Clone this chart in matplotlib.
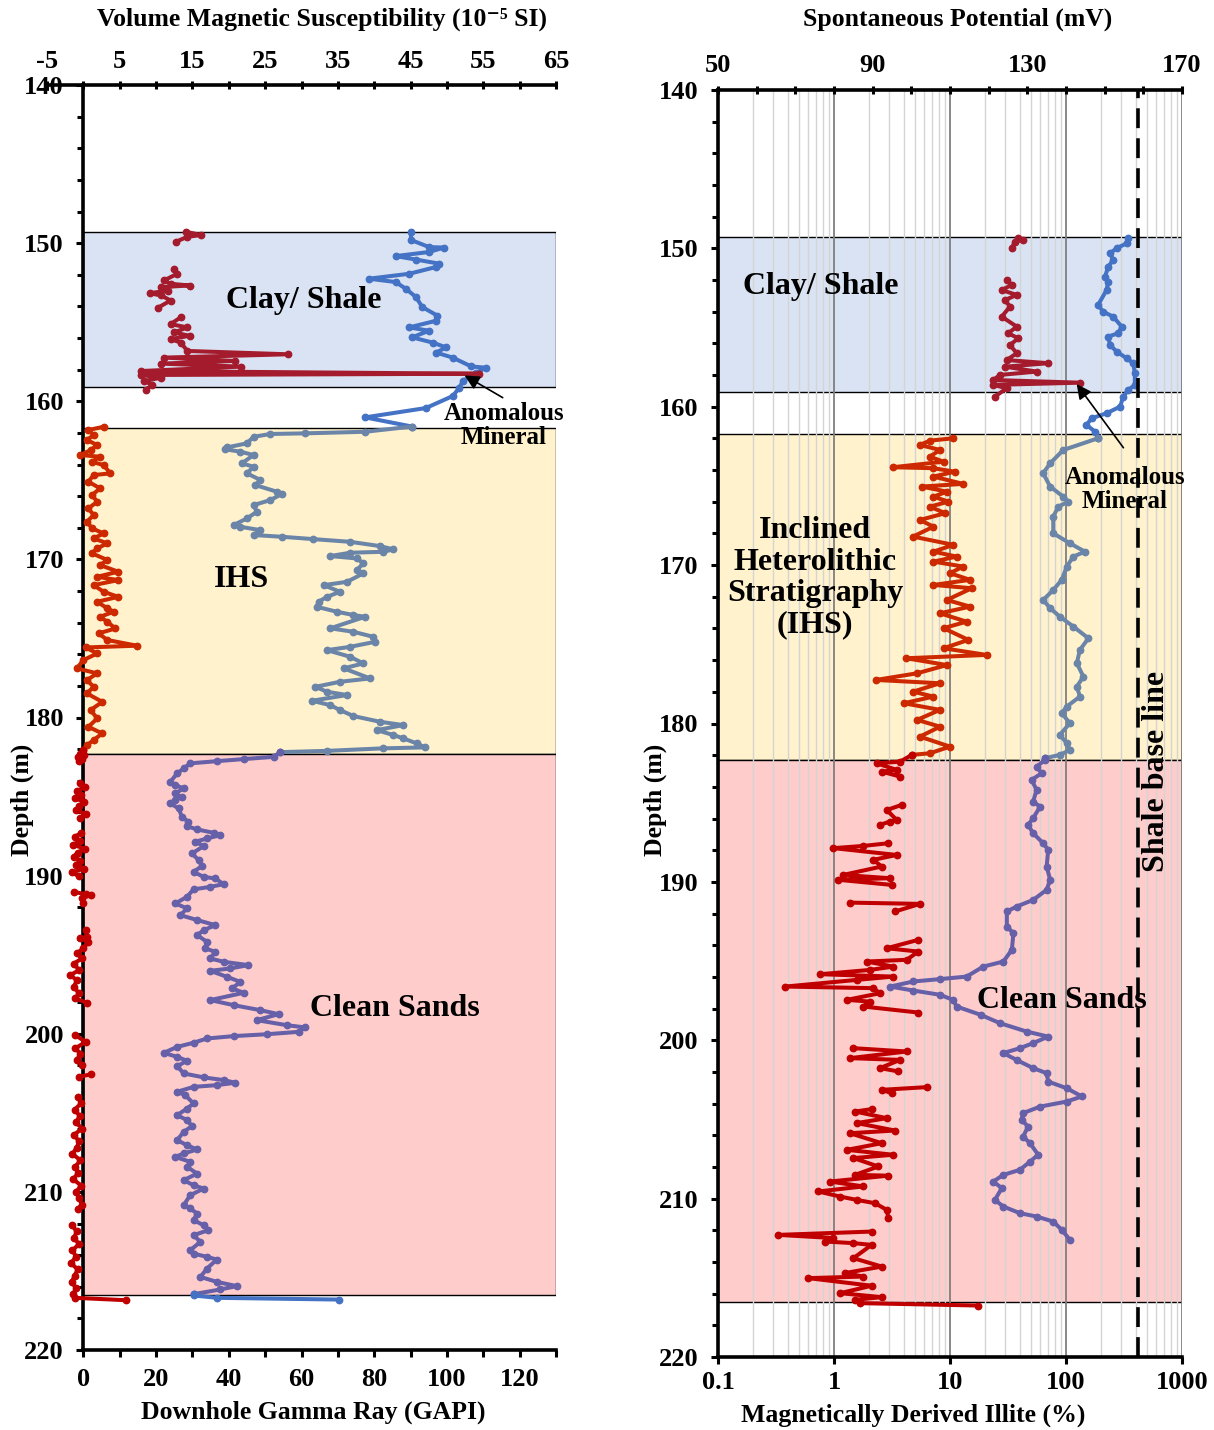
import numpy as np
import matplotlib
matplotlib.use('Agg')
import matplotlib.pyplot as plt
from matplotlib.patches import Rectangle
from matplotlib.ticker import MultipleLocator, FixedLocator, FuncFormatter

plt.rcParams['font.family'] = ['Liberation Serif', 'DejaVu Serif']
plt.rcParams['font.weight'] = 'bold'
plt.rcParams['axes.unicode_minus'] = False
plt.rcParams['xtick.labelsize'] = 19
plt.rcParams['ytick.labelsize'] = 19

nan = np.nan

# facies zones (depth, m)
zone_top = [149.3, 161.7, 182.3]
zone_base = [159.1, 182.3, 216.5]
zone_colors = ['#DAE3F3', '#FFF2CC', '#FFCCCC']

# ---- left track: downhole gamma ray (GAPI) ----
gr_clay_depth = [149.28, 149.80, 150.25, 150.28, 150.56, 150.82, 151.04, 151.30, 151.51, 151.94,
                 152.25, 152.46, 152.89, 153.41, 154.04, 154.59, 154.91, 155.33, 155.54, 155.96,
                 156.29, 156.60, 156.92, 157.24, 157.80, 157.88, 158.20, 158.72, 159.15, 159.67,
                 160.43, 161.02, 161.60]
gr_clay = [90.1, 90.1, 95.1, 99.2, 95.1, 85.9, 91.5, 97.9, 97.0, 89.6,
           78.5, 85.9, 88.7, 91.5, 93.2, 97.4, 97.0, 89.6, 95.1, 90.4,
           96.1, 99.8, 97.0, 101.6, 106.7, 110.8, 108.0, 104.4, 103.4, 101.6,
           94.2, 77.5, 90.4]

gr_ihs_depth = [161.93, 162.03, 162.07, 162.25, 162.66, 162.92, 163.04, 163.19, 163.40, 163.93,
                164.14, 164.56, 164.98, 165.30, 165.72, 165.87, 166.25, 166.57, 166.99, 167.41,
                167.83, 167.94, 168.15, 168.46, 168.57, 168.72, 168.89, 169.16, 169.37, 169.52,
                169.58, 169.79, 169.94, 170.25, 170.68, 170.89, 171.42, 171.63, 172.05, 172.37,
                172.68, 173.00, 173.31, 173.52, 173.63, 174.36, 174.58, 174.90, 175.21, 175.53,
                175.74, 176.16, 176.58, 176.89, 177.53, 177.74, 178.06, 178.37, 178.58, 178.94,
                179.22, 179.53, 179.91, 180.27, 180.48, 180.80, 181.11, 181.32, 181.64, 181.89,
                181.95, 182.11, 182.19]
gr_ihs = [77.5, 61.0, 51.4, 46.8, 45.0, 39.5, 39.0, 43.2, 46.8, 43.6,
          46.8, 45.0, 48.7, 47.3, 53.2, 54.6, 51.4, 46.8, 47.7, 45.0,
          41.3, 43.2, 48.7, 46.8, 54.6, 63.3, 73.4, 81.6, 85.3, 82.5,
          73.4, 67.9, 75.2, 77.0, 75.2, 77.0, 72.5, 66.1, 70.6, 67.0,
          64.7, 64.2, 69.7, 74.3, 77.5, 67.9, 74.3, 79.8, 80.3, 73.4,
          67.0, 73.4, 77.0, 71.6, 78.9, 70.6, 63.8, 67.0, 72.5, 62.9,
          67.9, 70.6, 74.3, 81.6, 88.0, 80.7, 85.3, 88.0, 91.7, 94.0,
          82.5, 67.0, 54.2]

gr_sand_depth = [182.49, 182.63, 182.76, 182.90, 183.22, 183.54, 184.07, 184.28, 184.48, 184.80,
                 185.05, 185.22, 185.43, 185.75, 186.28, 186.60, 186.87, 187.08, 187.29, 187.44,
                 187.65, 187.86, 188.13, 188.60, 189.02, 189.40, 189.76, 190.08, 190.18, 190.54,
                 190.71, 190.87, 191.34, 191.76, 192.07, 192.50, 192.81, 193.13, 193.45, 193.76,
                 194.19, 194.60, 194.82, 195.24, 195.45, 195.66, 195.87, 196.02, 196.40, 196.72,
                 197.13, 197.41, 197.87, 198.19, 198.51, 198.76, 199.14, 199.46, 199.60, 199.88,
                 200.03, 200.15, 200.30, 200.57, 200.83, 201.21, 201.46, 201.71, 202.05, 202.51,
                 202.76, 202.93, 203.10, 203.25, 203.36, 203.67, 203.88, 204.41, 204.73, 205.15,
                 205.46, 205.84, 206.20, 206.73, 207.05, 207.32, 207.57, 207.79, 208.10, 208.42,
                 208.84, 209.26, 209.58, 209.79, 210.21, 210.84, 211.05, 211.37, 211.79, 212.11,
                 212.42, 212.74, 213.16, 213.69, 213.90, 214.11, 214.28, 214.85, 215.38, 215.69,
                 215.96, 216.17, 216.47]
gr_sand = [52.3, 44.1, 36.8, 29.4, 27.6, 25.8, 23.9, 25.3, 27.6, 25.3,
           27.1, 25.3, 23.9, 26.2, 27.1, 28.9, 28.5, 31.3, 35.8, 37.7,
           34.0, 30.8, 33.1, 29.9, 31.7, 32.6, 30.3, 33.1, 36.3, 38.6,
           34.9, 30.3, 28.5, 25.3, 28.5, 26.7, 31.3, 36.3, 33.1, 31.3,
           34.0, 33.5, 36.3, 34.9, 38.6, 45.4, 40.4, 34.9, 39.5, 43.2,
           40.9, 44.1, 34.9, 41.3, 48.7, 53.7, 47.7, 56.0, 61.0, 59.2,
           50.5, 41.3, 34.0, 30.3, 25.8, 22.1, 25.8, 28.5, 25.8, 27.6,
           33.1, 38.6, 41.8, 36.7, 30.3, 25.8, 28.0, 30.3, 28.5, 25.8,
           28.5, 29.9, 27.6, 25.8, 28.5, 31.3, 27.6, 25.3, 29.4, 28.5,
           31.3, 27.6, 30.3, 33.1, 29.4, 27.6, 29.4, 31.3, 30.3, 33.1,
           34.4, 30.3, 32.2, 29.4, 30.3, 34.0, 36.7, 34.0, 32.2, 36.7,
           42.2, 37.7, 30.3]

gr_tail_depth = [216.55, 216.70, 216.81]
gr_tail = [30.3, 36.7, 70.2]

# ---- left track: volume magnetic susceptibility (1e-5 SI) ----
mag_clay_depth = [149.28, 149.49, 149.60, 149.92, nan,
                  151.62, 151.94, 152.36, 152.57, 152.68, 152.78, 153.00, 153.17, 153.31, 153.63, 154.10, nan,
                  154.69, 155.12, 155.33, 155.65, 155.86, 156.07, 156.29, 156.82, 157.03, 157.24,
                  157.45, 157.62, 157.81, 158.09, 158.26, 158.34, 158.51, 158.72, 158.97, 159.26]
mag_clay = [14.1, 16.2, 14.3, 12.7, nan,
            12.5, 12.9, 11.1, 12.0, 14.6, 10.7, 11.6, 9.1, 10.7, 12.0, 10.2, nan,
            13.4, 12.0, 14.3, 12.5, 14.6, 12.0, 13.4, 14.3, 28.1, 11.1,
            20.8, 10.7, 21.7, 7.9, 54.4, 7.9, 10.7, 8.4, 9.5, 8.6]

mag_ihs_depth = [161.61, 161.82, 162.14, 162.45, 162.77, 163.09, 163.40, 163.51, 163.83, 164.04,
                 164.56, 164.67, 165.09, 165.51, 165.93, 166.36, 166.77, 167.20, 167.62, 168.04,
                 168.36, 168.67, 168.99, 169.30, 169.62, 170.04, 170.36, 170.78, 171.10, 171.31,
                 171.63, 172.05, 172.37, 172.68, 173.10, 173.31, 173.63, 173.95, 174.37, 174.68,
                 175.10, 175.46, 175.57, 175.95, 176.37, 176.89, 177.21, 177.63, 178.06, 178.48,
                 179.01, 179.53, 180.06, 180.59, 181.01, 181.43, 181.75, 182.06]
mag_ihs = [2.8, 0.7, 1.4, 0.5, 1.9, 1.0, -0.4, 2.3, 1.2, 2.8,
           3.7, 1.4, 0.7, 2.3, 1.2, 1.9, 0.7, 1.4, 0.5, 1.2,
           2.8, 1.4, 3.3, 1.9, 1.2, 3.3, 2.3, 4.8, 1.9, 4.8,
           1.4, 2.8, 4.8, 1.9, 3.3, 4.2, 2.3, 3.3, 4.4, 2.1,
           3.3, 7.4, 0.3, 1.9, 0.0, -0.9, 1.9, 0.5, 1.4, 0.5,
           2.6, 1.0, 1.9, 0.7, 2.6, 1.4, 0.5, 0.0]

mag_sand_depth = [182.28, 182.40, 182.52, 182.64, 182.75, nan,
                  184.15, 184.40, 184.65, 184.90, 185.10, 185.35, 185.60, 185.85, 186.10, 186.35, nan,
                  187.30, 187.55, 187.80, 188.05, 188.30, 188.55, 188.80, 189.05, 189.30, 189.55, 189.80, 190.05, nan,
                  191.03, 191.17, 191.23, 191.44, 191.76, nan,
                  193.45, 193.87, 193.97, 194.19, 194.60, 194.92, 195.24, 195.56, 195.98, 196.29,
                  196.61, 197.03, 197.45, 197.77, 198.04, nan,
                  200.09, 200.51, 200.93, 201.25, 201.67, 201.99, nan,
                  202.57, 202.72, nan,
                  204.0, 204.4, 204.8, 205.2, 205.6, 206.0, 206.4, 206.8, 207.2, 207.6,
                  208.0, 208.4, 208.8, 209.2, 209.6, 210.0, 210.4, 210.8, 211.1, nan,
                  212.1, 212.5, 212.9, 213.3, 213.7, 214.1, 214.5, 214.9, 215.3, 215.7,
                  216.1, 216.45, 216.7, 216.85]
mag_sand = [-0.4, 0.1, -0.8, -0.2, -0.6, nan,
            -0.5, 0.2, -0.9, -0.3, -1.1, 0.1, -0.6, -1.0, 0.3, -0.4, nan,
            -0.3, -1.2, -0.5, -1.4, 0.2, -0.8, -1.3, -0.4, -1.0, 0.1, -1.5, -0.6, nan,
            -1.3, 0.3, 1.0, -0.2, 0.0, nan,
            0.3, 0.5, -0.4, 0.7, 0.0, -0.9, -0.2, -1.3, -0.6, -1.8,
            -0.9, -1.3, -0.6, -1.1, 0.5, nan,
            -1.1, 0.3, -1.1, -0.4, -0.9, -0.2, nan,
            1.0, -0.6, nan,
            -0.8, -0.3, -1.2, -0.5, -1.0, -0.2, -1.3, -0.6, -0.9, -1.5,
            -0.4, -1.1, -0.7, -1.4, -0.3, -1.0, -0.6, -0.2, -0.8, nan,
            -1.6, -0.9, -1.3, -0.6, -1.5, -1.0, -1.7, -0.8, -1.2, -1.6,
            -1.0, -1.4, -1.2, 5.8]

# ---- right track: spontaneous potential (mV) ----
sp_clay_depth = [149.36, 149.68, 149.99, 150.31, 150.73, 151.16, 151.79, 152.10, 152.63, 153.57,
                 154.00, 154.31, 154.94, 155.36, 155.57, 156.10, 156.52, 156.94, 157.25, 157.89,
                 158.62, 158.94, 159.36, 159.99, 160.41, 160.73, 161.15, 161.57, 161.99]
sp_clay = [156.1, 155.7, 153.1, 151.4, 152.2, 150.9, 150.1, 150.9, 150.5, 148.3,
           149.6, 152.2, 154.4, 153.5, 150.9, 151.4, 153.1, 155.7, 157.4, 157.8,
           157.8, 156.1, 154.8, 154.0, 150.5, 146.6, 145.3, 147.5, 148.3]

sp_ihs_depth = [162.73, 163.57, 164.20, 165.04, 165.68, 165.99, 166.31, 166.94, 167.99, 168.62,
                169.15, 169.46, 170.09, 170.93, 171.57, 172.20, 172.72, 173.25, 173.88, 174.62,
                175.35, 176.19, 177.04, 177.67, 178.30, 178.93, 179.35, 179.98, 180.72, 181.24,
                181.67, 181.98, 182.19]
sp_ihs = [139.3, 135.9, 134.1, 135.9, 139.3, 140.6, 138.0, 136.7, 136.7, 141.0,
          144.9, 141.9, 140.2, 138.9, 136.7, 134.1, 135.9, 138.4, 141.9, 145.8,
          143.6, 142.8, 144.5, 142.8, 143.6, 140.2, 138.9, 141.0, 138.4, 140.2,
          141.0, 138.4, 134.6]

sp_sand_depth = [182.30, 182.72, 183.14, 183.56, 184.19, 184.93, 185.25, 185.98, 186.40, 186.93,
                 187.56, 187.98, 189.03, 189.87, 190.50, 191.14, 191.56, 191.87, 192.82, 193.24,
                 194.29, 195.03, 195.35, 195.98, 196.14, 196.29, 196.61, 196.86, 197.13, 197.45,
                 197.87, 198.40, 198.92, 199.45, 199.77, 200.18, 200.50, 200.81, 201.24, 201.76,
                 202.08, 202.61, 203.03, 203.55, 203.87, 204.19, 204.60, 205.03, 205.45, 206.08,
                 206.50, 207.23, 207.66, 208.18, 208.50, 208.92, 209.34, 210.08, 210.50, 210.92,
                 211.13, 211.45, 211.97, 212.60]
sp_sand = [134.6, 132.4, 133.7, 131.1, 132.4, 131.5, 133.3, 131.5, 130.2, 131.5,
           134.1, 135.4, 135.0, 135.9, 135.0, 131.5, 127.2, 124.7, 124.7, 126.4,
           126.0, 123.8, 118.6, 114.3, 107.4, 100.5, 94.5, 100.5, 107.4, 110.8,
           111.7, 118.0, 122.9, 129.8, 135.4, 131.5, 128.1, 123.8, 127.2, 131.5,
           135.0, 135.4, 140.2, 144.1, 140.2, 133.3, 128.9, 128.5, 130.2, 128.9,
           130.7, 132.8, 130.7, 128.1, 123.8, 121.2, 123.4, 121.6, 123.8, 128.1,
           132.4, 136.7, 138.9, 141.0]

shale_base_sp = 158.6

# ---- right track: magnetically derived illite (%) ----
ill_clay_depth = [149.36, 149.47, 149.58, 149.99, nan,
                  151.99, 152.31, 152.63, 152.94, 153.26, 153.68, 154.31, 154.94, 155.36, 155.68,
                  156.10, 156.62, 157.05, 157.25, 157.47, 157.78, 157.99, 158.31, 158.48, 158.62,
                  158.83, 159.36]
ill_clay = [38.8, 42.9, 36.3, 34.0, nan,
            30.8, 34.0, 27.9, 37.6, 29.8, 32.9, 27.9, 37.6, 31.8, 38.8,
            32.9, 37.6, 30.8, 70.4, 29.8, 55.9, 27.0, 23.6, 132.0, 23.6,
            30.8, 24.4]

ill_ihs_depth = [161.99, 162.14, 162.41, 162.73, 163.15, 163.47, 163.82, 163.88, 164.10, 164.41,
                 164.87, 165.04, 165.36, 165.68, 165.99, 166.31, 166.72, 167.15, 167.57, 168.20,
                 168.72, 169.15, 169.46, 169.78, 170.09, 170.51, 170.93, 171.25, 171.46, 172.20,
                 172.62, 173.04, 173.57, 173.98, 174.72, 175.25, 175.67, 175.88, 176.31, 176.83,
                 177.25, 177.46, 177.99, 178.30, 178.72, 179.14, 179.77, 180.20, 180.83, 181.46,
                 181.88, 181.98]
ill_ihs = [10.7, 6.7, 5.5, 8.2, 6.7, 8.8, 3.2, 7.2, 11.0, 7.2,
           13.0, 5.7, 9.4, 7.2, 9.7, 6.7, 9.1, 5.5, 7.2, 4.8,
           10.7, 7.2, 11.4, 7.2, 13.0, 10.0, 14.9, 7.2, 15.4, 9.4,
           14.9, 8.2, 13.9, 8.8, 14.4, 8.8, 20.7, 4.2, 9.4, 5.2,
           2.3, 8.2, 4.8, 7.2, 4.0, 8.2, 5.2, 8.2, 5.5, 10.0,
           6.7, 4.7]

ill_sand_depth = [182.41, 182.51, 182.93, 183.04, 183.35, nan,
                  185.14, 185.46, 186.09, 186.19, 186.40, nan,
                  187.56, 187.73, 187.87, 188.30, 188.61, 189.03, 189.56, 189.77, 189.87, 190.19, nan,
                  191.31, 191.39, 191.87, nan,
                  193.66, 194.19, 194.40, 194.92, 195.03, 195.35, 195.56, 195.83, 195.98, 196.19,
                  196.61, 196.71, 197.03, 197.45, 197.56, 197.87, 198.25, nan,
                  200.50, 200.71, 201.13, 201.24, 201.76, 201.97, nan,
                  202.96, 203.13, 203.34, nan,
                  204.35, 204.50, 204.92, 205.23, 205.70, 205.87, 206.50, 206.92, 207.23, 207.44,
                  207.97, 208.50, 208.55, 208.92, 209.23, 209.55, 209.87, 210.08, 210.29, 210.71,
                  211.23, nan,
                  212.08, 212.29, 212.49, 212.71, 212.81, 212.92, 213.76, 214.29, 214.70, 214.92,
                  215.02, 215.50, 215.97, 216.22, 216.39, 216.60, 216.75]
ill_sand = [3.71, 2.33, 3.47, 2.58, 3.71, nan,
            3.83, 2.85, 3.47, 3.04, 2.49, nan,
            2.94, 1.79, 0.99, 3.47, 2.18, 2.58, 1.20, 3.04, 1.09, 3.14, nan,
            1.37, 5.51, 3.36, nan,
            5.33, 2.85, 5.33, 4.24, 1.91, 3.24, 2.04, 0.76, 3.24, 1.57,
            0.38, 2.18, 2.49, 1.29, 2.04, 1.79, 5.33, nan,
            1.47, 4.24, 1.37, 3.71, 2.49, 3.59, nan,
            6.30, 2.58, 3.14, nan,
            2.11, 1.52, 2.85, 1.57, 3.36, 1.37, 2.58, 1.29, 3.24, 1.47,
            2.41, 1.52, 2.94, 0.92, 1.79, 0.73, 1.13, 1.57, 2.26, 2.85,
            2.94, nan,
            2.11, 0.33, 0.99, 0.84, 1.47, 2.11, 1.47, 2.58, 1.24, 1.79,
            0.60, 2.11, 1.13, 2.58, 1.52, 1.67, 17.5]

# colours
CLAY_RED, IHS_RED, SAND_RED = '#A31B2C', '#CC2900', '#C00000'
CLAY_BLUE, IHS_SLATE, SAND_PURPLE = '#4472C4', '#6B85A8', '#6660A8'


def trace(ax, depth, vals, color, lead=None):
    d = np.asarray(depth, float)
    v = np.asarray(vals, float)
    if lead is not None:
        d = np.r_[lead[0][-1], d]
        v = np.r_[lead[1][-1], v]
    ax.plot(v, d, color=color, lw=2.9, marker='o', ms=4.6, zorder=3,
            solid_joinstyle='round')


def zones(ax, x0, width):
    for top, base, col in zip(zone_top, zone_base, zone_colors):
        ax.add_patch(Rectangle((x0, top), width, base - top, facecolor=col,
                               edgecolor='black', lw=1.0, zorder=0.3))


W, H = 1214, 1430
fig = plt.figure(figsize=(W / 100, H / 100), dpi=100)

# ================= left panel =================
axL = fig.add_axes([47 / W, 1 - 1350 / H, 509 / W, 1265 / H])
axL.set_xlim(-10, 130)
axL.set_ylim(220, 140)
zones(axL, 0, 130)
for s in ['top', 'right']:
    axL.spines[s].set_visible(False)
axL.spines['left'].set_position(('data', 0))
axL.spines['bottom'].set_bounds(0, 130)
for s in ['left', 'bottom']:
    axL.spines[s].set_linewidth(2.6)
axL.xaxis.set_major_locator(FixedLocator(list(range(0, 121, 20))))
axL.xaxis.set_minor_locator(FixedLocator(list(range(10, 131, 20))))
axL.yaxis.set_major_locator(MultipleLocator(10))
axL.yaxis.set_minor_locator(MultipleLocator(2))
axL.tick_params(axis='both', which='both', direction='out', width=2.2)
axL.tick_params(axis='x', which='both', length=5, pad=8)
axL.tick_params(axis='y', which='major', length=5, pad=9)
axL.tick_params(axis='y', which='minor', length=4)

trace(axL, gr_clay_depth, gr_clay, CLAY_BLUE)
trace(axL, gr_ihs_depth, gr_ihs, IHS_SLATE, lead=(gr_clay_depth, gr_clay))
trace(axL, gr_sand_depth, gr_sand, SAND_PURPLE, lead=(gr_ihs_depth, gr_ihs))
trace(axL, gr_tail_depth, gr_tail, CLAY_BLUE, lead=(gr_sand_depth, gr_sand))

axLt = axL.twiny()
axLt.set_xlim(-5, 65)
for s in ['left', 'right', 'bottom']:
    axLt.spines[s].set_visible(False)
axLt.spines['top'].set_linewidth(2.6)
axLt.xaxis.set_major_locator(FixedLocator(list(range(-5, 66, 10))))
axLt.xaxis.set_minor_locator(FixedLocator(list(range(0, 61, 10))))
axLt.tick_params(axis='x', which='both', direction='inout', length=6, width=2.2, pad=6)

trace(axLt, mag_clay_depth, mag_clay, CLAY_RED)
trace(axLt, mag_ihs_depth, mag_ihs, IHS_RED)
trace(axLt, mag_sand_depth, mag_sand, SAND_RED, lead=(mag_ihs_depth, mag_ihs))

txt = dict(ha='center', va='center', fontsize=23, fontweight='bold', zorder=5,
           transform=axL.transData)
axLt.text(60.5, 153.6, 'Clay/ Shale', **txt)
axLt.text(43.4, 171.3, 'IHS', **txt)
axLt.text(85.8, 198.4, 'Clean Sands', **txt)
axLt.annotate('', xy=(104.2, 158.28), xytext=(116.0, 159.86),
              xycoords=axL.transData, textcoords=axL.transData,
              arrowprops=dict(arrowstyle='-|>', color='black', lw=1.2, mutation_scale=22),
              zorder=6)
axLt.text(115.7, 161.55, 'Anomalous\nMineral', ha='center', va='center', fontsize=18,
          linespacing=1.05, zorder=5, transform=axL.transData)

# ================= right panel =================
axR = fig.add_axes([718 / W, 1 - 1357 / H, 464 / W, 1267 / H])
axR.set_xscale('log')
axR.set_xlim(0.1, 1000)
axR.set_ylim(220, 140)
zones(axR, 0.1, 1000 - 0.1)
axR.set_axisbelow(True)
axR.grid(which='major', axis='x', color='#7f7f7f', lw=1.3)
axR.grid(which='minor', axis='x', color='#d4d4d4', lw=1.0)
for s in ['top', 'right']:
    axR.spines[s].set_visible(False)
for s in ['left', 'bottom']:
    axR.spines[s].set_linewidth(2.6)
axR.xaxis.set_major_formatter(FuncFormatter(lambda v, p: f'{v:g}'))
axR.yaxis.set_major_locator(MultipleLocator(10))
axR.yaxis.set_minor_locator(MultipleLocator(2))
axR.tick_params(axis='x', which='major', direction='out', length=5, width=2.2, pad=5)
axR.tick_params(axis='x', which='minor', length=0)
axR.tick_params(axis='y', which='major', direction='out', length=5, width=2.2, pad=9)
axR.tick_params(axis='y', which='minor', direction='out', length=4, width=2.2)

trace(axR, ill_clay_depth, ill_clay, CLAY_RED)
trace(axR, ill_ihs_depth, ill_ihs, IHS_RED)
trace(axR, ill_sand_depth, ill_sand, SAND_RED, lead=(ill_ihs_depth, ill_ihs))

axRt = axR.twiny()
axRt.set_xlim(50, 170)
for s in ['left', 'right', 'bottom']:
    axRt.spines[s].set_visible(False)
axRt.spines['top'].set_linewidth(2.6)
axRt.xaxis.set_major_locator(FixedLocator([50, 90, 130, 170]))
axRt.xaxis.set_minor_locator(MultipleLocator(10))
axRt.tick_params(axis='x', which='both', direction='inout', length=6, width=2.2, pad=6)

trace(axRt, sp_clay_depth, sp_clay, CLAY_BLUE)
trace(axRt, sp_ihs_depth, sp_ihs, IHS_SLATE, lead=(sp_clay_depth, sp_clay))
trace(axRt, sp_sand_depth, sp_sand, SAND_PURPLE, lead=(sp_ihs_depth, sp_ihs))
axRt.axvline(shale_base_sp, color='black', lw=2.6, dashes=(5.5, 2.8), zorder=4)

txtR = dict(ha='center', va='center', fontsize=23, fontweight='bold', zorder=5,
            transform=axR.transData)
axRt.text(0.773, 152.4, 'Clay/ Shale', **txtR)
axRt.text(0.685, 170.8, 'Inclined\nHeterolithic\nStratigraphy\n(IHS)', linespacing=1.1, **txtR)
axRt.text(92.5, 197.5, 'Clean Sands', **txtR)
axRt.text(608, 183.0, 'Shale base line', rotation=90, **txtR)
axRt.annotate('', xy=(119.7, 158.43), xytext=(323, 162.73),
              xycoords=axR.transData, textcoords=axR.transData,
              arrowprops=dict(arrowstyle='-|>', color='black', lw=1.2, mutation_scale=22),
              zorder=6)
axRt.text(323, 165.25, 'Anomalous\nMineral', ha='center', va='center', fontsize=18,
          linespacing=1.05, zorder=5, transform=axR.transData)

# axis titles
ft = dict(ha='center', va='center', fontsize=18.5, fontweight='bold')
fig.text(322 / W, 1 - 19 / H, 'Volume Magnetic Susceptibility (10\u207b\u2075 SI)', **ft)
fig.text(313 / W, 1 - 1412 / H, 'Downhole Gamma Ray (GAPI)', **ft)
fig.text(958 / W, 1 - 19 / H, 'Spontaneous Potential (mV)', **ft)
fig.text(913 / W, 1 - 1415 / H, 'Magnetically Derived Illite (%)', **ft)
fig.text(22 / W, 1 - 800 / H, 'Depth (m)', rotation=90, **ft)
fig.text(655 / W, 1 - 800 / H, 'Depth (m)', rotation=90, **ft)

fig.savefig('out.png', dpi=100)
